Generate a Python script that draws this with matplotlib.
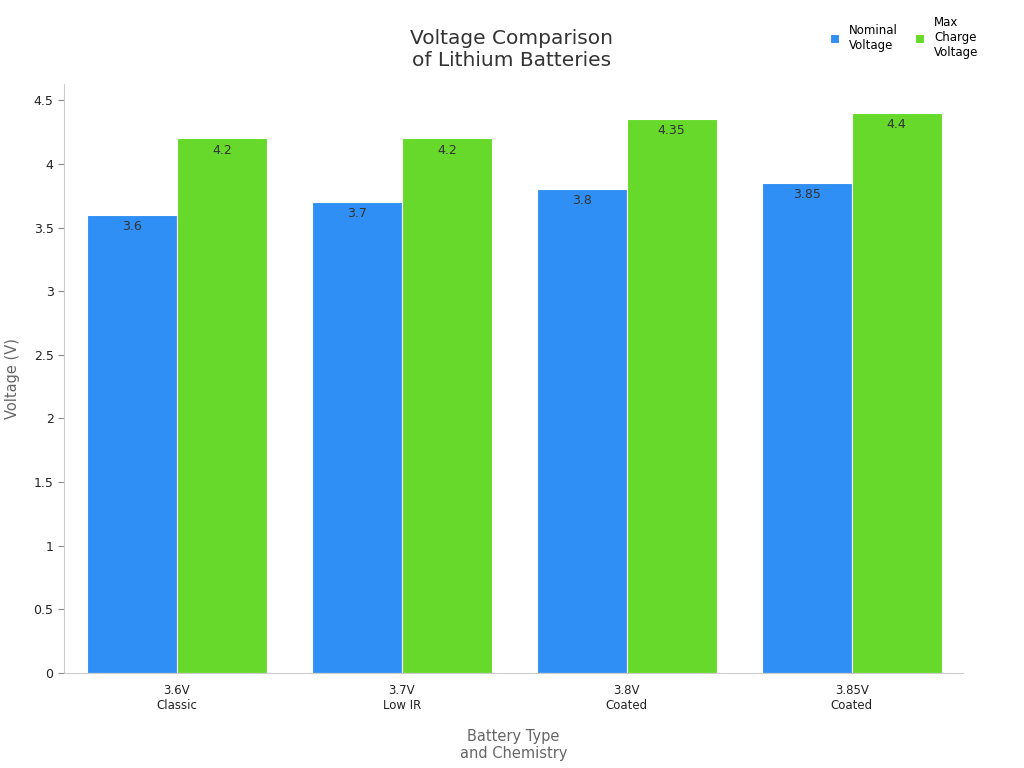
import matplotlib.pyplot as plt
import numpy as np

categories = ["3.6V\nClassic", "3.7V\nLow IR", "3.8V\nCoated", "3.85V\nCoated"]
nominal = [3.6, 3.7, 3.8, 3.85]
max_charge = [4.2, 4.2, 4.35, 4.4]
yticks = [0, 0.5, 1, 1.5, 2, 2.5, 3, 3.5, 4, 4.5]
ytick_labels = ["0", "0.5", "1", "1.5", "2", "2.5", "3", "3.5", "4", "4.5"]

fig = plt.figure(figsize=(10.24, 7.68), dpi=100)
ax = fig.add_axes([0.0625, 0.1237, 0.8775, 0.7673])

x = np.arange(len(categories))
w = 0.4
b1 = ax.bar(x - w / 2, nominal, w, color="#2F8FF5", edgecolor="white", linewidth=0.8,
            label="Nominal\nVoltage")
b2 = ax.bar(x + w / 2, max_charge, w, color="#66D92A", edgecolor="white", linewidth=0.8,
            label="Max\nCharge\nVoltage")
for bars, vals in ((b1, nominal), (b2, max_charge)):
    for r, v in zip(bars, vals):
        ax.text(r.get_x() + r.get_width() / 2, v - 0.04, f"{v:g}", ha="center", va="top",
                fontsize=9, color="#333333")

ax.set_xlim(-0.502, 3.493)
ax.set_ylim(0, 4.63)
ax.set_xticks(x, categories, fontsize=8.5, color="#222222")
ax.set_yticks(yticks, ytick_labels, fontsize=9, color="#222222")
ax.tick_params(axis="x", length=0, pad=8)
ax.tick_params(axis="y", length=4, color="#888888")
for s in ("top", "right"):
    ax.spines[s].set_visible(False)
ax.spines["left"].set_color("#cccccc")
ax.spines["bottom"].set_color("#cccccc")

ax.set_ylabel("Voltage (V)", fontsize=10.5, color="#666666", labelpad=10)
ax.set_xlabel("Battery Type\nand Chemistry", fontsize=10.5, color="#666666", labelpad=12)
fig.text(0.5, 0.935, "Voltage Comparison\nof Lithium Batteries", ha="center", va="center",
         fontsize=14.5, color="#333333")

ax.legend(ncol=2, loc="upper right", bbox_to_anchor=(0.96, 0.985), bbox_transform=fig.transFigure,
          frameon=False, fontsize=8.5, handlelength=0.8, handleheight=0.8,
          columnspacing=1.5, borderaxespad=0)

fig.savefig("out.png", dpi=100)
